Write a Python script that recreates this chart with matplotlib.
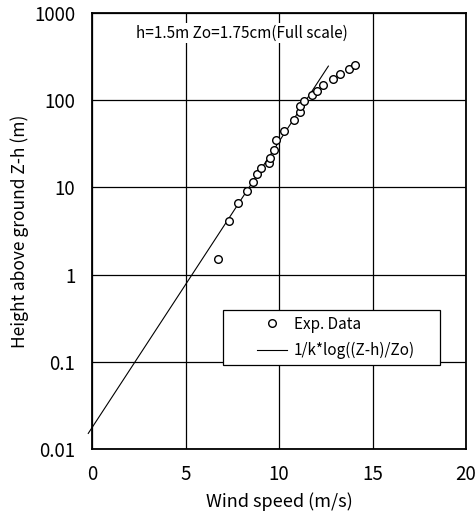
import matplotlib
matplotlib.use('Agg')
import matplotlib.pyplot as plt
from matplotlib.patches import Rectangle

plt.rcParams['font.family'] = ['Noto Sans CJK JP', 'DejaVu Sans']

# measured profile, full scale
speed = [6.72, 7.33, 7.81, 8.29, 8.61, 8.82, 9.04, 9.45, 9.52, 9.71, 9.86,
         10.27, 10.80, 11.12, 11.14, 11.35, 11.76, 12.01, 12.37, 12.90,
         13.26, 13.72, 14.05]
height = [1.51, 4.12, 6.57, 9.1, 11.5, 14.3, 16.8, 19.2, 21.9, 26.6, 34.7,
          44.7, 59.8, 73.3, 85.8, 98, 114, 126, 148, 175, 198, 230, 255]

# log law, end points of the drawn line
fit_speed = [-0.2, 12.64]
fit_height = [0.0151, 246]

f = plt.figure(figsize=(4.77, 5.21), dpi=100)
ax = f.add_axes([92 / 477, 1 - 449 / 521, 374 / 477, 436 / 521])

ax.plot(speed, height, 'o', mfc='white', mec='black', ms=5.5, mew=1.0,
        label='Exp. Data', zorder=4)
ax.plot(fit_speed, fit_height, '-', color='black', lw=0.8, clip_on=False,
        label='1/k*log((Z-h)/Zo)', zorder=3)

ax.set_yscale('log')
ax.set_xlim(0, 20)
ax.set_ylim(0.01, 1000)
ax.set_xticks([0, 5, 10, 15, 20])
ax.set_yticks([0.01, 0.1, 1, 10, 100, 1000])
ax.set_yticklabels(['0.01', '0.1', '1', '10', '100', '1000'])
ax.minorticks_off()
ax.tick_params(length=0, labelsize=13.5)
ax.tick_params(axis='y', pad=12)
ax.tick_params(axis='x', pad=11)
ax.grid(True, color='black', lw=0.9)
for s in ax.spines.values():
    s.set_linewidth(1.3)

ax.set_xlabel('Wind speed (m/s)', fontsize=13, labelpad=5)
ax.set_ylabel('Height above ground Z-h (m)', fontsize=12.5, labelpad=4)

ax.text(0.40, 0.954, 'h=1.5m Zo=1.75cm(Full scale)', transform=ax.transAxes,
        ha='center', va='center', fontsize=11,
        bbox=dict(facecolor='white', edgecolor='none', pad=1))

# legend box drawn separately so the entries can sit off-centre in it
ax.add_patch(Rectangle((0.349, 0.193), 0.581, 0.126, transform=ax.transAxes,
                       facecolor='white', edgecolor='black', lw=0.9,
                       zorder=5))
leg = ax.legend(loc='center left', bbox_to_anchor=(0.441, 0.256),
                frameon=False, borderpad=0, borderaxespad=0, fontsize=11,
                handlelength=2.0, handletextpad=0.4, labelspacing=0.6)
leg.set_zorder(6)

plt.savefig('out.png')
